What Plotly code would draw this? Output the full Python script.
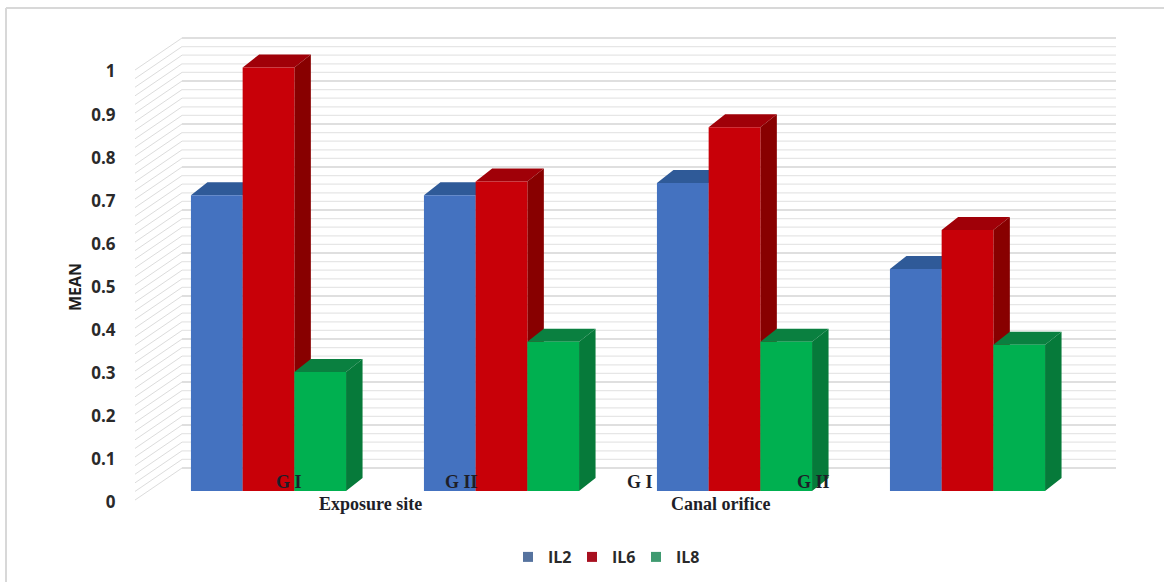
import plotly.graph_objects as go

# Chart data
groups = [0, 1, 2, 3]
series_names = ["IL2", "IL6", "IL8"]
il2 = [0.688, 0.688, 0.716, 0.516]
il6 = [0.985, 0.720, 0.846, 0.607]
il8 = [0.277, 0.347, 0.347, 0.340]
value_ticks = [0, 0.1, 0.2, 0.3, 0.4, 0.5, 0.6, 0.7, 0.8, 0.9, 1]
value_tick_text = ["0", "0.1", "0.2", "0.3", "0.4", "0.5", "0.6", "0.7", "0.8", "0.9", "1"]
sub_labels = ["G I", "G II", "G I", "G II"]
site_labels = ["Exposure site", "Canal orifice"]

front_colors = ["#4472c0", "#c80008", "#00b050"]
top_colors = ["#2f5a98", "#a00008", "#0a8040"]
side_colors = ["#2c5590", "#880000", "#067a3a"]
legend_colors = ["#56739f", "#a81020", "#3f9a70"]

# Page geometry
W, H = 1164, 582
PLOT_L, PLOT_R, PLOT_T, PLOT_B = 130, 1120, 20, 530
GROUP_PX = 233.0          # pixels per category step
GROUP0_PX = 268.5         # centre of the first cluster
PX_PER_UNIT = 430.0       # pixels per 1.0 on the value scale
ZERO_PX = 491.0           # bar baseline
LABEL_ZERO_PX = 502.5     # where the tick label "0" sits
LABEL_PX_PER_UNIT = 431.0

to_x = lambda dpx: dpx / GROUP_PX
to_v = lambda dpx: dpx / PX_PER_UNIT

BAR_W = to_x(51.7)
DEPTH_X, DEPTH_V = to_x(16.5), to_v(13.0)


def px_x(px):
    return (px - GROUP0_PX) / GROUP_PX


def paper_x(px):
    return (px - PLOT_L) / (PLOT_R - PLOT_L)


def paper_y(py):
    return (PLOT_B - py) / (PLOT_B - PLOT_T)


fig = go.Figure()

# Back wall and left wall with their gridlines, every 0.02
wall_front_x, wall_back_x, wall_end_x = px_x(135), px_x(182), px_x(1116)
wall_front_dv, wall_back_dv = -0.021, 0.0535
for i in range(51):
    v = i / 50
    major = i % 5 == 0
    fig.add_trace(go.Scatter(
        x=[wall_back_x, wall_end_x], y=[v + wall_back_dv] * 2, mode="lines",
        line=dict(color="#d4d4d4" if major else "#e6e6e6", width=1.6 if major else 1.3),
        hoverinfo="skip", showlegend=False, zorder=0))
    fig.add_trace(go.Scatter(
        x=[wall_front_x, wall_back_x], y=[v + wall_front_dv, v + wall_back_dv], mode="lines",
        line=dict(color="#dcdcdc", width=1),
        hoverinfo="skip", showlegend=False, zorder=0))

# Bars: front faces as bar traces, top and side faces derived from the same values
for s, values in enumerate([il2, il6, il8]):
    offset = (s - 1.5) * BAR_W
    z = 2 * s + 1
    fig.add_trace(go.Bar(
        x=groups, y=values, width=BAR_W, offset=offset, name=series_names[s],
        marker=dict(color=front_colors[s], line=dict(width=0)),
        showlegend=False, zorder=z + 1))
    top_x, top_y, side_x, side_y = [], [], [], []
    for g, v in zip(groups, values):
        left = g + offset
        right = left + BAR_W
        top_x += [left, left + DEPTH_X, right + DEPTH_X, right, None]
        top_y += [v, v + DEPTH_V, v + DEPTH_V, v, None]
        side_x += [right, right + DEPTH_X, right + DEPTH_X, right, None]
        side_y += [0, DEPTH_V, v + DEPTH_V, v, None]
    for xs, ys, color in ((top_x, top_y, top_colors[s]), (side_x, side_y, side_colors[s])):
        fig.add_trace(go.Scatter(
            x=xs, y=ys, mode="lines", fill="toself", fillcolor=color,
            line=dict(width=0, color=color), hoverinfo="skip",
            showlegend=False, zorder=z))

# Legend keys, carried on the labelled value axis so that it is drawn
for s, name in enumerate(series_names):
    fig.add_trace(go.Scatter(
        x=[None], y=[None], yaxis="y2", mode="markers", name=name,
        marker=dict(symbol="square", size=10, color=legend_colors[s])))

annotations = []
serif = dict(family="Liberation Serif", size=18, color="#1e1e28")
for px, py, text in zip([289, 461, 640, 813], [482, 482, 482, 482], sub_labels):
    annotations.append(dict(x=px_x(px), y=(ZERO_PX - py) / PX_PER_UNIT, text=f"<b>{text}</b>",
                            showarrow=False, font=serif, xanchor="center", yanchor="middle"))
for px, text in zip([370, 720], site_labels):
    annotations.append(dict(x=px_x(px), y=(ZERO_PX - 504) / PX_PER_UNIT, text=f"<b>{text}</b>",
                            showarrow=False, font=serif, xanchor="center", yanchor="middle"))
annotations.append(dict(xref="paper", yref="paper", x=paper_x(75), y=paper_y(287),
                        text="<b>MEAN</b>", textangle=-90,
                        showarrow=False, xanchor="center", yanchor="middle",
                        font=dict(family="Open Sans", size=16, color="#1e1e1e")))

frame = dict(type="line", xref="paper", yref="paper", line=dict(color="#d8d8d8", width=2))
shapes = [
    dict(frame, x0=paper_x(6), x1=paper_x(W), y0=paper_y(8), y1=paper_y(8)),
    dict(frame, x0=paper_x(6), x1=paper_x(6), y0=paper_y(8), y1=paper_y(H)),
]

fig.update_layout(
    width=W, height=H,
    margin=dict(l=PLOT_L, r=W - PLOT_R, t=PLOT_T, b=H - PLOT_B, autoexpand=False),
    paper_bgcolor="#ffffff", plot_bgcolor="rgba(0,0,0,0)",
    barmode="overlay",
    xaxis=dict(range=[px_x(PLOT_L), px_x(PLOT_R)], visible=False),
    yaxis=dict(range=[(ZERO_PX - PLOT_B) / PX_PER_UNIT, (ZERO_PX - PLOT_T) / PX_PER_UNIT],
               visible=False),
    yaxis2=dict(
        overlaying="y", side="left", anchor="x",
        range=[(LABEL_ZERO_PX - PLOT_B) / LABEL_PX_PER_UNIT, (LABEL_ZERO_PX - PLOT_T) / LABEL_PX_PER_UNIT],
        tickmode="array", tickvals=value_ticks, ticktext=value_tick_text,
        tickfont=dict(family="Open Sans", size=17, color="#2a2a2a", weight="bold"),
        ticks="outside", ticklen=10, tickcolor="rgba(0,0,0,0)",
        showgrid=False, zeroline=False, showline=False,
    ),
    legend=dict(orientation="h", x=paper_x(508), xanchor="left", y=paper_y(557), yanchor="middle",
                entrywidth=19, entrywidthmode="pixels",
                font=dict(family="Open Sans", size=16, color="#2a2a2a", weight="bold")),
    annotations=annotations, shapes=shapes,
)

fig.write_html("out.html")
